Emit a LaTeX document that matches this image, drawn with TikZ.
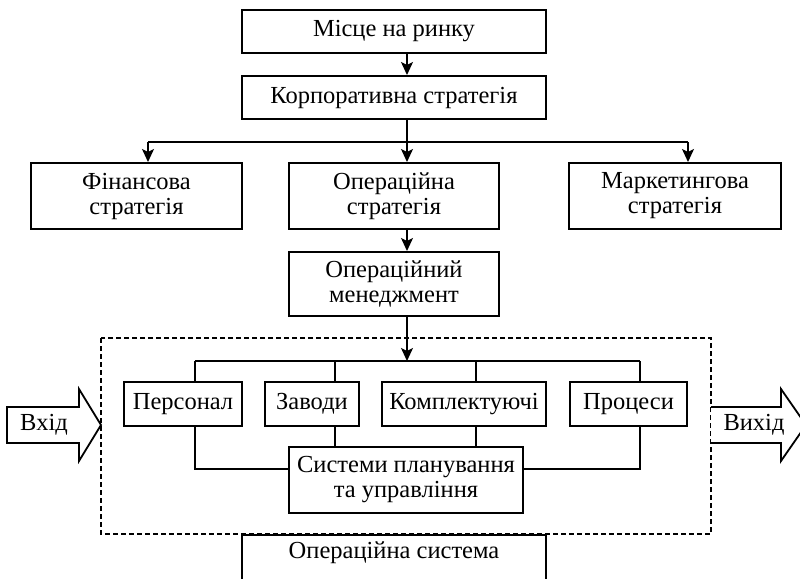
\documentclass[tikz,border=0pt]{standalone}
\usepackage{fontspec}
\setmainfont{Liberation Serif}
\usetikzlibrary{arrows.meta}
\newcommand\fsz{\fontsize{24.5}{25}\selectfont}
\begin{document}
\begin{tikzpicture}[x=1pt,y=-1pt,
  box/.style={draw, line width=2pt, fill=white, inner sep=0pt, align=center, font=\fsz},
  conn/.style={line width=1.4pt},
  arr/.style={line width=1.4pt, -{Stealth[length=13pt,width=12pt,inset=3pt]}},
  bigarrow/.style={line width=1.8pt, line join=miter, fill=white}]
\clip (0,0) rectangle (800,578);
\fill[white] (0,0) rectangle (800,578);

% dashed frame
\draw[line width=1.3pt, dash pattern=on 5pt off 3pt] (101,338) rectangle (711,534);

% nodes
\node[box, minimum width=304, minimum height=43] (m) at (394,31.5) {Місце на ринку};
\node[box, minimum width=304, minimum height=43] (k) at (394,97.5) {Корпоративна стратегія};
\node[box, minimum width=211, minimum height=66] (f) at (136.5,196) {Фінансова\\стратегія};
\node[box, minimum width=210, minimum height=66] (o) at (394,196) {Операційна\\стратегія};
\node[box, minimum width=212, minimum height=66] (mk) at (675,196) {Маркетингова\\стратегія};
\node[box, minimum width=210, minimum height=64] (om) at (394,284) {Операційний\\менеджмент};
\node[box, minimum width=118, minimum height=44] (p) at (183,404) {Персонал};
\node[box, minimum width=94, minimum height=44] (z) at (312,404) {Заводи};
\node[box, minimum width=164, minimum height=44] (kp) at (464,404) {Комплектуючі};
\node[box, minimum width=117, minimum height=44] (pr) at (628.5,404) {Процеси};
\node[box, minimum width=234, minimum height=66] (s) at (406,480) {Системи планування\\та управління};
\node[box, minimum width=304, minimum height=52, anchor=north] (os) at (394,534) {};
\node[font=\fsz] (ost) at (394,553) {Операційна система};

% helper coordinates
\coordinate (xa) at (407,0);
\coordinate (b1) at (0,142);
\coordinate (b2) at (0,361);
\coordinate (b3) at (0,469);
\coordinate (xf) at (148,0);
\coordinate (xm) at (688,0);
\coordinate (xp) at (195,0);
\coordinate (xz) at (335,0);
\coordinate (xk) at (476,0);
\coordinate (xr) at (640,0);

% connectors
\draw[arr] (m.south -| xa) -- (k.north -| xa);
\draw[conn] (k.south -| xa) -- (xa |- b1);
\draw[conn] (xf |- b1) -- (xm |- b1);
\draw[arr] (xf |- b1) -- (f.north -| xf);
\draw[arr] (xa |- b1) -- (o.north -| xa);
\draw[arr] (xm |- b1) -- (mk.north -| xm);
\draw[arr] (o.south -| xa) -- (om.north -| xa);
\draw[arr] (om.south -| xa) -- (xa |- b2);
\draw[conn] (xp |- b2) -- (xr |- b2);
\draw[conn] (xp |- b2) -- (p.north -| xp);
\draw[conn] (xz |- b2) -- (z.north -| xz);
\draw[conn] (xk |- b2) -- (kp.north -| xk);
\draw[conn] (xr |- b2) -- (pr.north -| xr);
\draw[conn] (p.south -| xp) -- (xp |- b3) -- (s.west |- b3);
\draw[conn] (z.south -| xz) -- (s.north -| xz);
\draw[conn] (kp.south -| xk) -- (s.north -| xk);
\draw[conn] (pr.south -| xr) -- (xr |- b3) -- (s.east |- b3);

% input / output arrows
\draw[bigarrow] (7,407) -- (79,407) -- (79,389) -- (101,425) -- (79,461) -- (79,443) -- (7,443) -- cycle;
\node[font=\fsz] (in) at (44,425) {Вхід};
\fill[white] (712,407) -- (781,407) -- (781,389) -- (806,425) -- (781,461) -- (781,443) -- (712,443) -- cycle;
\draw[bigarrow] (711,407) -- (781,407) -- (781,389) -- (806,425) -- (781,461) -- (781,443) -- (711,443);
\node[font=\fsz] (out) at (754,425) {Вихід};
\end{tikzpicture}
\end{document}
